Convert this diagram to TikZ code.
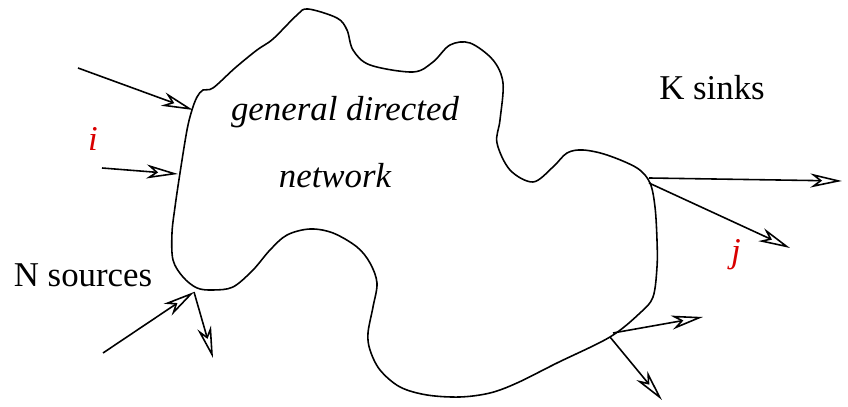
\documentclass[tikz,border=0pt]{standalone}
\usepackage{fontspec}
\setmainfont{Liberation Serif}
\usetikzlibrary{arrows.meta}
\tikzset{
  flow/.style={->, line width=0.45pt},
  lbl/.style={inner sep=0pt, font=\fontsize{9.9}{12}\selectfont},
  idx/.style={lbl, text=red!85!black, font=\fontsize{9.9}{12}\selectfont\itshape}
}
\begin{document}
\begin{tikzpicture}[x=0.01cm, y=-0.01cm,
  >={Stealth[open, length=9pt, width=4pt, inset=2.6pt]}]
	\useasboundingbox (0,0) rectangle (848,407);
	% the network outline
	\draw[line width=0.45pt] plot[smooth cycle, tension=0.55] coordinates {
	  (192,110) (197,97) (203,90) (213,88) (235,68) (257,50) (273,39) (297,15)
	  (308,9) (337,18) (347,30) (353,50) (370,65) (413,72) (433,62) (450,45)
	  (470,43) (493,60) (503,83) (500,120) (497,143) (510,170) (533,182)
	  (553,167) (567,153) (583,150) (607,155) (637,168) (650,183) (655,207)
	  (657,240) (657,267) (653,297) (640,313) (610,337) (557,363) (517,383)
	  (490,393) (460,397) (427,395) (400,387) (380,370) (370,350) (368,333)
	  (373,307) (377,283) (370,263) (357,247) (333,233) (310,229) (287,235)
	  (270,250) (253,270) (233,287) (213,290) (197,288) (183,277) (173,260)
	  (172,233) (175,207) (180,173) (187,130)};
	% points on the outline
	\coordinate (in1) at (193,110);
	\coordinate (in2) at (178,174);
	\coordinate (in3) at (194,292);
	\coordinate (out1) at (649,178);
	\coordinate (out2) at (649,183);
	\coordinate (out3) at (613,333);
	\coordinate (out4) at (610,337);
	% free ends
	\coordinate (s1) at (78,68);
	\coordinate (s2) at (102,168);
	\coordinate (s3) at (103,353);
	\coordinate (t0) at (213,358);
	\coordinate (t1) at (842,181);
	\coordinate (t2) at (790,248);
	\coordinate (t3) at (703,317);
	\coordinate (t4) at (662,400);
	\draw[flow] (s1) -- (in1);
	\draw[flow] (s2) -- (in2);
	\draw[flow] (s3) -- (in3);
	\draw[flow] (in3) -- (t0);
	\draw[flow] (out1) -- (t1);
	\draw[flow] (out2) -- (t2);
	\draw[flow] (out3) -- (t3);
	\draw[flow] (out4) -- (t4);
	% labels
	\node[lbl, font=\fontsize{9.9}{12}\selectfont\itshape] (gen) at (345,112) {general directed};
	\node[lbl, font=\fontsize{9.9}{12}\selectfont\itshape] (net) at (335,176) {network};
	\node[lbl] (sinks) at (712,88) {K sinks};
	\node[lbl] (sources) at (83,275) {N sources};
	\node[idx] (i) at (93,139) {i};
	\node[idx] (j) at (736,255) {j};
\end{tikzpicture}
\end{document}
